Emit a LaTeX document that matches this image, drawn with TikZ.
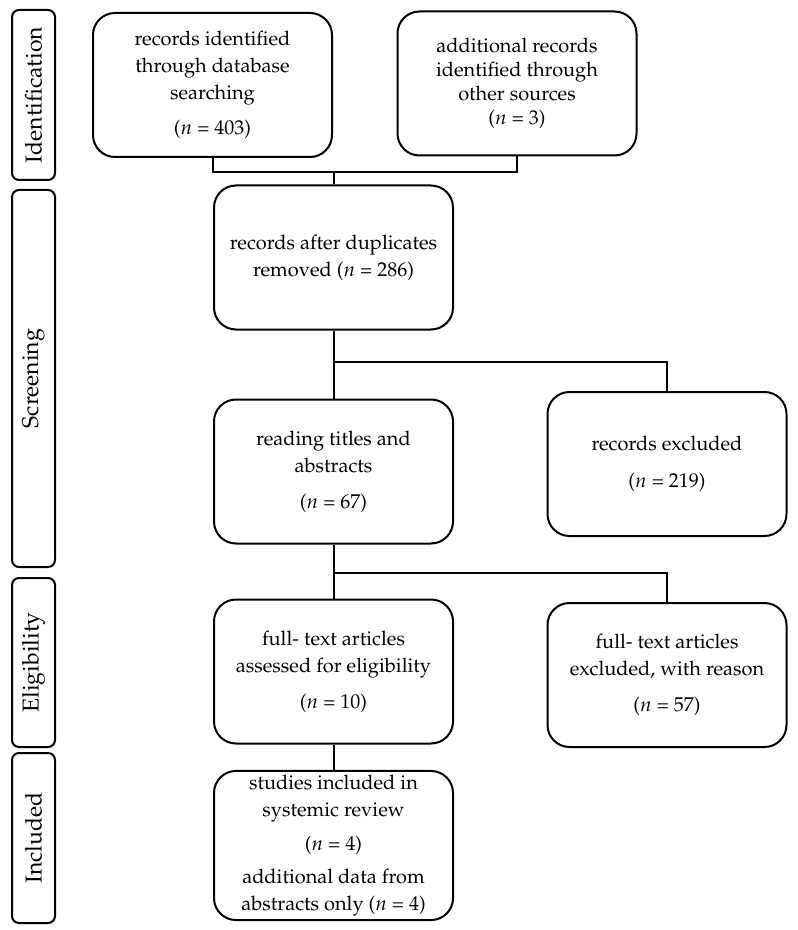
\documentclass[tikz,border=0pt]{standalone}
\usepackage{amsmath}
\usepackage[T1]{fontenc}
\usepackage{mathpazo}
\usepackage{tikz}

\tikzset{
	box/.style={draw, line width=1pt, rounded corners=11pt, minimum width=119.5pt, minimum height=72pt, align=center, inner sep=2pt, font=\fontsize{10}{13.5}\selectfont},
	stage/.style={draw, line width=1pt, rounded corners=3.5pt, rotate=90, minimum height=21.5pt, inner sep=0pt, font=\fontsize{11.5}{13}\selectfont},
	link/.style={line width=1pt}
}

\begin{document}
\begin{tikzpicture}[x=0.5pt, y=-0.5pt]
	\useasboundingbox (0,0) rectangle (797,930);
	\node[stage, minimum width=85pt] (ident) at (33.5,95) {Identification};
	\node[stage, minimum width=188.5pt] (screen) at (33.5,378.5) {Screening};
	\node[stage, minimum width=84.5pt] (elig) at (33.5,662.5) {Eligibility};
	\node[stage, minimum width=85pt] (incl) at (33.5,838) {Included};

	\node[box] (db) at (212.5,85) {records identified\\through database\\searching\\[4pt]($n$ = 403)};
	\node[box, font=\fontsize{10}{12}\selectfont] (other) at (517,83.5) {additional records\\identified through\\other sources\\($n$ = 3)};
	\node[box] (dup) at (333.5,257.5) {records after duplicates\\removed ($n$ = 286)};
	\node[box] (reading) at (333.5,471.5) {reading titles and\\abstracts\\[4.5pt]($n$ = 67)};
	\node[box] (excl) at (667,464) {records excluded\\[5pt]($n$ = 219)};
	\node[box] (full) at (333.5,671.5) {full- text articles\\assessed for eligibility\\[4.5pt]($n$ = 10)};
	\node[box] (fullexcl) at (667,675) {full- text articles\\excluded, with reason\\[4.5pt]($n$ = 57)};
	\node[box] (studies) at (333.5,845.5) {studies included in\\systemic review\\[3.5pt]($n$ = 4)\\[3pt]additional data from\\abstracts only ($n$ = 4)};

	\coordinate (j1) at (333.5,172);
	\coordinate (j2) at (333.5,362);
	\coordinate (j3) at (333.5,573);
	\draw[link] (db.south) |- (j1) -| (other.south);
	\draw[link] (j1) -- (dup.north);
	\draw[link] (dup.south) -- (reading.north);
	\draw[link] (j2) -| (excl.north);
	\draw[link] (reading.south) -- (full.north);
	\draw[link] (j3) -| (fullexcl.north);
	\draw[link] (full.south) -- (studies.north);
\end{tikzpicture}
\end{document}
